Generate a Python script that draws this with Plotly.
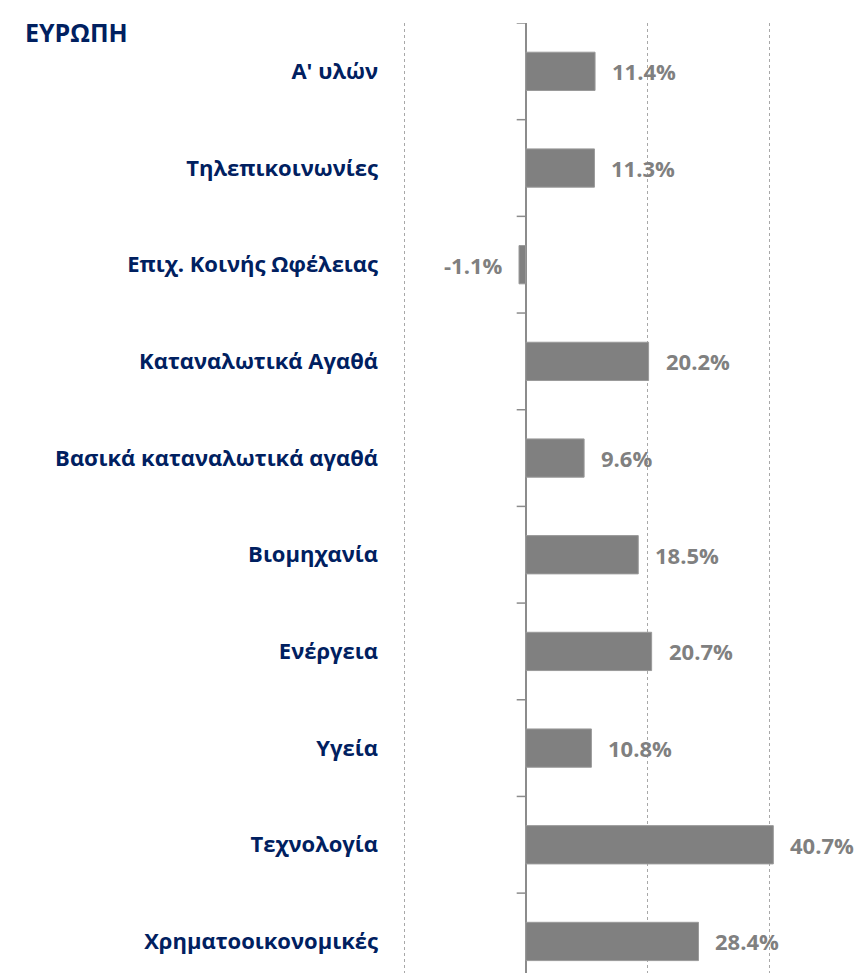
import plotly.graph_objects as go

# Data (top to bottom as shown)
categories = ["Α' υλών", "Τηλεπικοινωνίες", "Επιχ. Κοινής Ωφέλειας", "Καταναλωτικά Αγαθά",
              "Βασικά καταναλωτικά αγαθά", "Βιομηχανία", "Ενέργεια", "Υγεία",
              "Τεχνολογία", "Χρηματοοικονομικές"]
values = [11.4, 11.3, -1.1, 20.2, 9.6, 18.5, 20.7, 10.8, 40.7, 28.4]
grid_ticks = [-20, 0, 20, 40]
title_text = "ΕΥΡΩΠΗ"

NAVY = "#002060"
GREY = "#808080"
FONT = "Open Sans"

# bottom-first order so the first category sits at the top
cats_b = categories[::-1]
vals_b = values[::-1]
n = len(cats_b)

W, H = 866, 973
top = 22.8
plot_left = 395
zero_px = 525.7
px_per_unit = 6.084
band_px = 96.7

x_min = -(zero_px - plot_left) / px_per_unit
x_max = (W - zero_px) / px_per_unit
plot_h = H - top
y_max = n - 0.5
y_min = y_max - plot_h / band_px

fig = go.Figure()
fig.add_trace(go.Bar(
    x=vals_b, y=cats_b, orientation="h",
    marker=dict(color=GREY, line=dict(color="#9a9a9a", width=1)),
    hoverinfo="x+y",
))

# value labels
for c, v in zip(cats_b, vals_b):
    fig.add_annotation(
        x=v, y=c, xref="x", yref="y", text=f"<b>{v:.1f}%</b>", showarrow=False,
        xanchor="left" if v >= 0 else "right", xshift=15 if v >= 0 else -14,
        font=dict(family=FONT, size=22, color=GREY),
    )

# category boundary ticks on the zero line
tick_len = 9 / px_per_unit
for i in range(n):
    fig.add_shape(type="line", xref="x", yref="y", x0=-tick_len, x1=0,
                  y0=i + 0.5, y1=i + 0.5, line=dict(color="#8c8c8c", width=1.5))

# title (pixel position converted to paper coords)
fig.add_annotation(
    x=(23 - plot_left) / (W - plot_left), y=(H - 31.7) / plot_h,
    xref="paper", yref="paper", text=f"<b>{title_text}</b>",
    showarrow=False, xanchor="left", yanchor="middle",
    font=dict(family=FONT, size=25, color=NAVY),
)

fig.update_layout(
    width=W, height=H,
    margin=dict(l=plot_left, r=0, t=top, b=0, pad=0),
    plot_bgcolor="white", paper_bgcolor="white",
    showlegend=False, bargap=0.604,
    font=dict(family=FONT),
    xaxis=dict(range=[x_min, x_max], tickvals=grid_ticks, showticklabels=False,
               showgrid=True, gridcolor="#a8a8a8", griddash="dot", gridwidth=1,
               zeroline=True, zerolinecolor="#8c8c8c", zerolinewidth=1.5,
               showline=False, ticks=""),
    yaxis=dict(categoryorder="array", categoryarray=cats_b, range=[y_min, y_max],
               showgrid=False, zeroline=False, showline=False, ticks="",
               ticklabelstandoff=16,
               tickfont=dict(family=FONT, size=22, color=NAVY, weight="bold")),
)

fig.write_html(
    "out.html",
    config={"displayModeBar": False},
    post_script="document.body.style.margin='0';document.body.style.overflow='hidden';",
)
